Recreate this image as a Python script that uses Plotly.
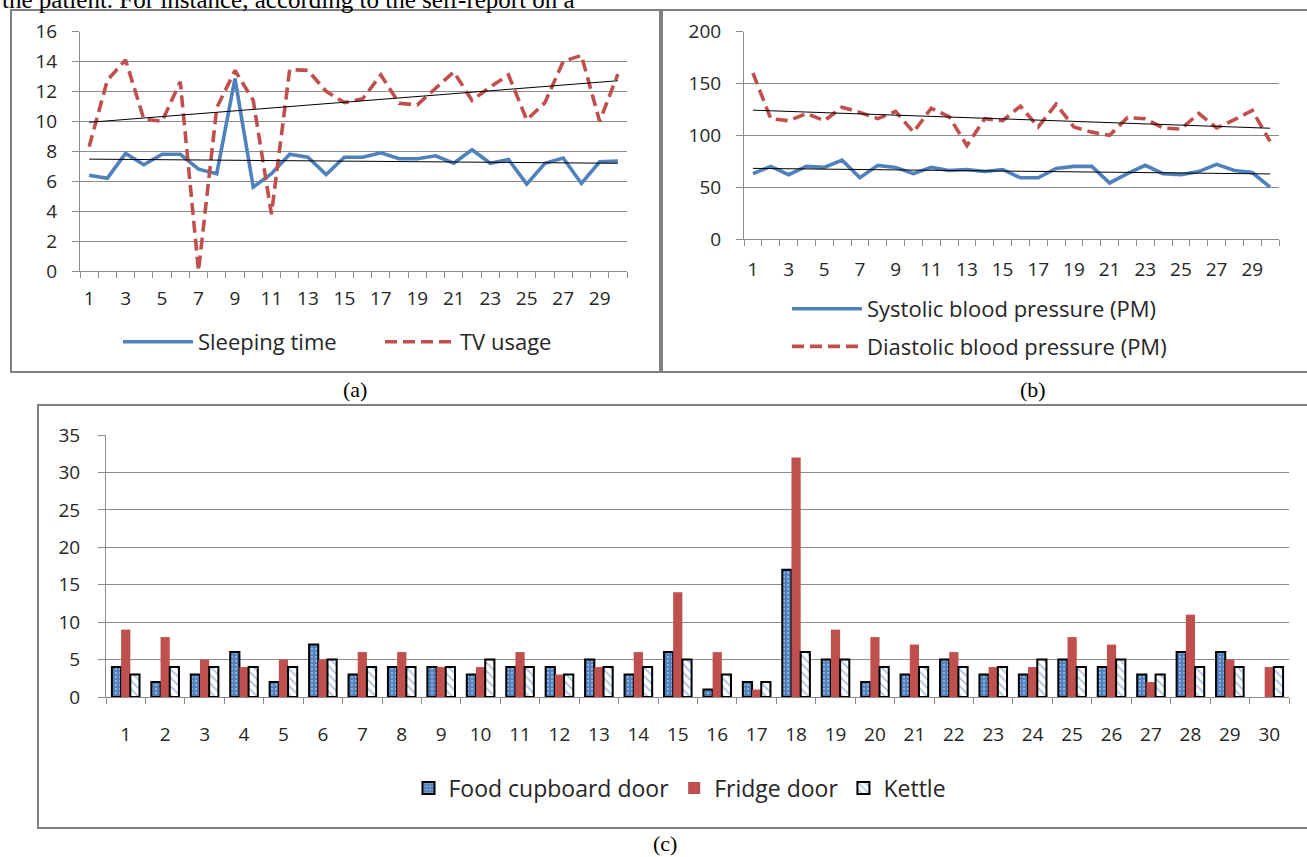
import numpy as np
import plotly.graph_objects as go

W, H = 1307, 857

# ---------------- data ----------------
days = list(range(1, 31))
odd_labels = list(range(1, 30, 2))

sleeping_time = [6.4, 6.2, 7.85, 7.1, 7.8, 7.8, 6.8, 6.5, 12.85, 5.6,
                 6.5, 7.8, 7.6, 6.45, 7.6, 7.6, 7.9, 7.5, 7.5, 7.7,
                 7.2, 8.1, 7.2, 7.45, 5.8, 7.2, 7.55, 5.85, 7.3, 7.35]
tv_usage = [8.3, 12.75, 14.1, 10.15, 10.0, 12.65, 0.0, 10.9, 13.4, 11.4,
            3.8, 13.45, 13.4, 12.0, 11.25, 11.5, 13.1, 11.2, 11.1, 12.2,
            13.3, 11.4, 12.3, 13.1, 10.1, 11.25, 14.0, 14.4, 10.0, 13.15]

systolic = [63, 70, 62, 70, 69, 76, 59, 71, 69, 63,
            69, 66, 67, 65, 67, 59, 59, 68, 70, 70,
            54, 63, 71, 63, 62, 65, 72, 66, 64, 50]
diastolic = [160, 116, 114, 121, 114, 127, 122, 116, 123, 103,
             126, 118, 90, 116, 114, 128, 108, 130, 108, 103,
             100, 117, 116, 107, 106, 121, 107, 115, 124, 94]

food_cupboard = [4, 2, 3, 6, 2, 7, 3, 4, 4, 3, 4, 4, 5, 3, 6,
                 1, 2, 17, 5, 2, 3, 5, 3, 3, 5, 4, 3, 6, 6, None]
fridge_door = [9, 8, 5, 4, 5, 5, 6, 6, 4, 4, 6, 3, 4, 6, 14,
               6, 1, 32, 9, 8, 7, 6, 4, 4, 8, 7, 2, 11, 5, 4]
kettle = [3, 4, 4, 4, 4, 5, 4, 4, 4, 5, 4, 3, 4, 4, 5,
          3, 2, 6, 5, 4, 4, 4, 4, 5, 4, 5, 3, 4, 4, 4]

# ---------------- style ----------------
BLUE = "#4F81BD"
RED = "#C0504D"
GRID = "#8C8C8C"
TXT = "#262626"
FONT = "'Open Sans', Lato, 'Liberation Sans', sans-serif"
SERIF = "'Liberation Serif', 'Times New Roman', serif"
DASH = "12px,6px"


def xd(a, b):
    return [a / W, b / W]


def yd(top, bottom):
    return [1 - bottom / H, 1 - top / H]


def trend(y):
    x = np.array(days, dtype=float)
    yy = np.array(y, dtype=float)
    k, b = np.polyfit(x, yy, 1)
    return list(k * x + b)


fig = go.Figure()

# ---- panel (a)
fig.add_trace(go.Scatter(x=days, y=sleeping_time, mode="lines", name="Sleeping time",
                         line=dict(color=BLUE, width=3.6), xaxis="x", yaxis="y",
                         legend="legend", legendgroup="a1"))
fig.add_trace(go.Scatter(x=days, y=tv_usage, mode="lines", name="TV usage",
                         line=dict(color=RED, width=3.6, dash=DASH), xaxis="x", yaxis="y",
                         legend="legend", legendgroup="a2"))
fig.add_trace(go.Scatter(x=days, y=trend(sleeping_time), mode="lines", showlegend=False,
                         line=dict(color="black", width=1), xaxis="x", yaxis="y", hoverinfo="skip"))
fig.add_trace(go.Scatter(x=days, y=trend(tv_usage), mode="lines", showlegend=False,
                         line=dict(color="black", width=1), xaxis="x", yaxis="y", hoverinfo="skip"))

# ---- panel (b)
fig.add_trace(go.Scatter(x=days, y=systolic, mode="lines", name="Systolic blood pressure (PM)",
                         line=dict(color=BLUE, width=3.6), xaxis="x2", yaxis="y2",
                         legend="legend2", legendgroup="b1"))
fig.add_trace(go.Scatter(x=days, y=diastolic, mode="lines", name="Diastolic blood pressure (PM)",
                         line=dict(color=RED, width=3.6, dash=DASH), xaxis="x2", yaxis="y2",
                         legend="legend2", legendgroup="b2"))
fig.add_trace(go.Scatter(x=days, y=trend(systolic), mode="lines", showlegend=False,
                         line=dict(color="black", width=1), xaxis="x2", yaxis="y2", hoverinfo="skip"))
fig.add_trace(go.Scatter(x=days, y=trend(diastolic), mode="lines", showlegend=False,
                         line=dict(color="black", width=1), xaxis="x2", yaxis="y2", hoverinfo="skip"))

# ---- panel (c)
fig.add_trace(go.Bar(x=days, y=food_cupboard, name="Food cupboard door", xaxis="x3", yaxis="y3",
                     legend="legend3",
                     marker=dict(color=BLUE, line=dict(color="black", width=2),
                                 pattern=dict(shape=".", fgcolor="#DCE6F2", fillmode="overlay",
                                              size=4, solidity=0.25))))
fig.add_trace(go.Bar(x=days, y=fridge_door, name="Fridge door", xaxis="x3", yaxis="y3",
                     legend="legend3",
                     marker=dict(color=RED, line=dict(color=RED, width=0))))
fig.add_trace(go.Bar(x=days, y=kettle, name="Kettle", xaxis="x3", yaxis="y3",
                     legend="legend3",
                     marker=dict(color="white", line=dict(color="black", width=2),
                                 pattern=dict(shape="\\", fgcolor=BLUE, fillmode="overlay",
                                              size=6, solidity=0.3))))

tickfont = dict(family=FONT, size=19, color=TXT)
legfont = dict(family=FONT, size=22, color=TXT)


def xaxis_common(domain, anchor, tickvals, standoff):
    return dict(domain=domain, anchor=anchor, range=[0.5, 30.5], tickmode="array",
                tickvals=tickvals, ticktext=[str(v) for v in tickvals], ticks="",
                showgrid=False, zeroline=False, showline=True, linecolor=GRID, linewidth=1,
                tickfont=tickfont, ticklabelstandoff=standoff, automargin=False,
                minor=dict(ticks="outside", tick0=0.5, dtick=1, ticklen=6,
                           tickcolor=GRID, tickwidth=1, showgrid=False))


def yaxis_common(domain, anchor, rng, dtick, standoff=11):
    return dict(domain=domain, anchor=anchor, range=rng, dtick=dtick, tick0=0,
                showgrid=True, gridcolor=GRID, gridwidth=1, zeroline=False,
                showline=True, linecolor=GRID, linewidth=1,
                ticks="outside", ticklen=7, tickcolor=GRID, tickwidth=1,
                tickfont=tickfont, ticklabelstandoff=standoff, automargin=False)


fig.update_layout(
    width=W, height=H, margin=dict(l=0, r=0, t=0, b=0, pad=0, autoexpand=False),
    paper_bgcolor="white", plot_bgcolor="white",
    barmode="group", bargap=0.3, bargroupgap=0,
    showlegend=True,
    xaxis=xaxis_common(xd(80, 627), "y", odd_labels, 10),
    yaxis=yaxis_common(yd(31.5, 271), "x", [0, 16], 2),
    xaxis2=xaxis_common(xd(744, 1279), "y2", odd_labels, 13),
    yaxis2=yaxis_common(yd(31.5, 239), "x2", [0, 200], 50),
    xaxis3=xaxis_common(xd(106, 1289), "y3", days, 20),
    yaxis3=yaxis_common(yd(435, 697), "x3", [0, 35], 5, standoff=14),
    legend=dict(orientation="h", x=118 / W, xanchor="left", y=1 - 342 / H, yanchor="middle",
                font=legfont, bgcolor="rgba(0,0,0,0)",
                itemwidth=70, entrywidth=177, entrywidthmode="pixels", traceorder="normal"),
    legend2=dict(orientation="v", x=787 / W, xanchor="left", y=1 - 328 / H, yanchor="middle",
                 font=legfont, bgcolor="rgba(0,0,0,0)",
                 itemwidth=70, tracegroupgap=6, traceorder="grouped"),
    legend3=dict(orientation="h", x=680 / W, xanchor="center", y=1 - 788 / H, yanchor="middle",
                 font=dict(family=FONT, size=23, color=TXT), bgcolor="rgba(0,0,0,0)",
                 traceorder="normal"),
)

# panel frames
frames = [(11, 10, 660, 372), (662, 10, 1312, 372), (38, 405, 1312, 828)]
for x0, y0, x1, y1 in frames:
    fig.add_shape(type="rect", xref="paper", yref="paper",
                  x0=x0 / W, x1=x1 / W, y0=1 - y1 / H, y1=1 - y0 / H,
                  line=dict(color="#808080", width=2), fillcolor="rgba(0,0,0,0)", layer="below")

# captions
for txt, cx, cy in [("(a)", 355, 389), ("(b)", 1033, 389), ("(c)", 665, 843)]:
    fig.add_annotation(text=txt, x=cx / W, y=1 - cy / H, xref="paper", yref="paper",
                       xanchor="center", yanchor="middle", showarrow=False,
                       font=dict(family=SERIF, size=22, color="black"))

# cropped body text at the top of the page (only its lower part shows, as in the source)
fig.add_annotation(text="the patient. For instance, according to the self-report on a",
                   x=0, y=1, xref="paper", yref="paper", xanchor="left", yanchor="bottom",
                   yshift=-15, showarrow=False,
                   font=dict(family=SERIF, size=25, color="black"))

fig.write_html("out.html", config={"displayModeBar": False},
               post_script="document.body.style.margin='0';document.body.style.padding='0';"
                           "document.body.style.overflow='hidden';")
